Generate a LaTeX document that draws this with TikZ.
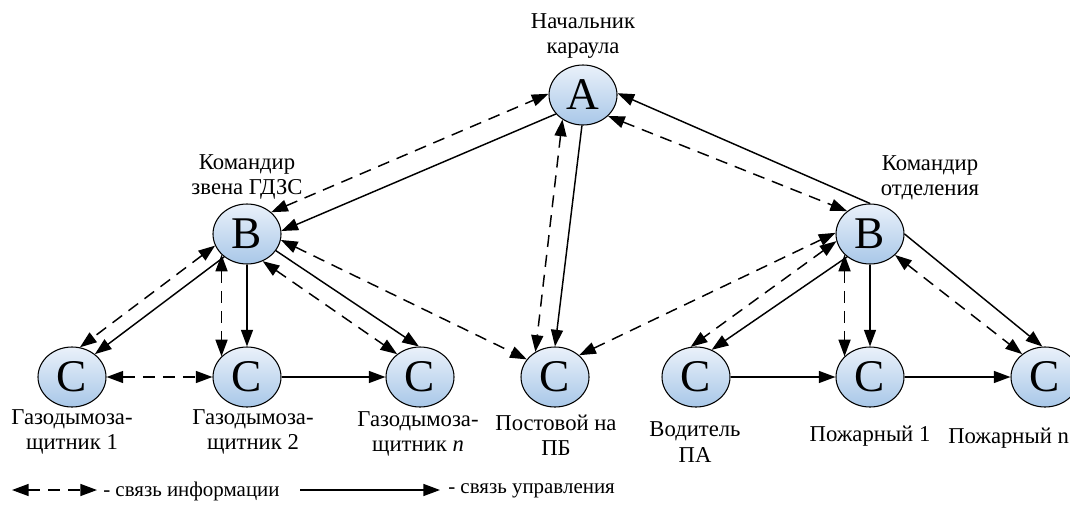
\documentclass[tikz,border=0pt]{standalone}
\usepackage{fontspec}
\setmainfont{Liberation Serif}
\usetikzlibrary{shapes.geometric,arrows.meta}
\definecolor{nodetop}{RGB}{234,241,250}
\definecolor{nodebot}{RGB}{168,199,232}
\tikzset{
  agent/.style={ellipse, draw=black, line width=0.8pt, minimum width=51pt, minimum height=45pt,
    inner sep=0pt, top color=nodetop, bottom color=nodebot, font=\fontsize{34}{34}\selectfont},
  lbl/.style={align=center, font=\fontsize{17}{19}\selectfont, inner sep=0pt},
  lgd/.style={font=\fontsize{15.7}{17}\selectfont, inner sep=0pt},
  tip/.tip={Triangle[length=12.5pt,width=9pt]},
  ctrl/.style={line width=1.1pt, -tip},
  info/.style={line width=1.1pt, dash pattern=on 9pt off 6pt, tip-tip},
}
\begin{document}
\begin{tikzpicture}[x=0.75pt,y=-0.75pt]
\useasboundingbox (0,0) rectangle (1070,521);
% nodes
\node[agent] (A)  at (583,95)  {A};
\node[agent] (B1) at (247,234) {B};
\node[agent] (B2) at (870,234) {B};
\node[agent] (C1) at (72,377)  {C};
\node[agent] (C2) at (247,377) {C};
\node[agent] (C3) at (420,377) {C};
\node[agent] (P)  at (555,377) {C};
\node[agent] (V)  at (696,377) {C};
\node[agent] (F1) at (870,377) {C};
\node[agent] (Fn) at (1045,377) {C};
% labels
\node[lbl] (tA)  at (583,36)  {Начальник\\караула};
\node[lbl] (tB1) at (247,177) {Командир\\звена ГДЗС};
\node[lbl] (tB2) at (930,178) {Командир\\отделения};
\node[lbl] (tC1) at (72,432)  {Газодымоза-\\щитник 1};
\node[lbl] (tC2) at (253,432) {Газодымоза-\\щитник 2};
\node[lbl] (tC3) at (418,434) {Газодымоза-\\щитник \textit{n}};
\node[lbl] (tP)  at (556,435) {Постовой на\\ПБ};
\node[lbl] (tV)  at (695,442) {Водитель\\ПА};
\node[lbl] (tF1) at (870,436) {Пожарный 1};
\node[lbl, anchor=west] (tFn) at (948,438) {Пожарный n};
% connectors
\draw[info] (B1.42) -- (A.178);
\draw[ctrl] (A.215) -- (B1.5);
\draw[info] (A.230) -- (P.128);
\draw[ctrl] (A.268) -- (P.90);
\draw[ctrl] (B2.90) -- (A.3);
\draw[info] (A.-40) -- (B2.135);
\draw[info] (B1.200) -- (C1.75);
\draw[ctrl] (B1.225) -- (C1.45);
\draw[info] (B1.219) -- (C2.141);
\draw[ctrl] (B1.south) -- (C2.north);
\draw[info] (B1.-60) -- (C3.135);
\draw[ctrl] (B1.-30) -- (C3.92);
\draw[info] (C1.east) -- (C2.west);
\draw[ctrl] (C2.east) -- (C3.west);
\draw[info] (B1.-10) -- (P.148);
\draw[info] (P.42) -- (B2.178);
\draw[info] (B2.192) -- (V.100);
\draw[ctrl] (B2.225) -- (V.60);
\draw[info] (B2.219) -- (F1.141);
\draw[ctrl] (B2.south) -- (F1.north);
\draw[info] (B2.-40) -- (Fn.135);
\draw[ctrl] (B2.0) -- (Fn.95);
\draw[ctrl] (V.east) -- (F1.west);
\draw[ctrl] (F1.east) -- (Fn.west);
% legend
\coordinate (la) at (12,490);
\coordinate (lb) at (97,490);
\draw[info] (la) -- (lb);
\node[lgd, anchor=west] (lt1) at (103,491) {- связь информации};
\coordinate (lc) at (300,490);
\coordinate (ld) at (440,490);
\draw[ctrl] (lc) -- (ld);
\node[lgd, anchor=west] (lt2) at (448,491) {- связь управления};
\end{tikzpicture}
\end{document}
